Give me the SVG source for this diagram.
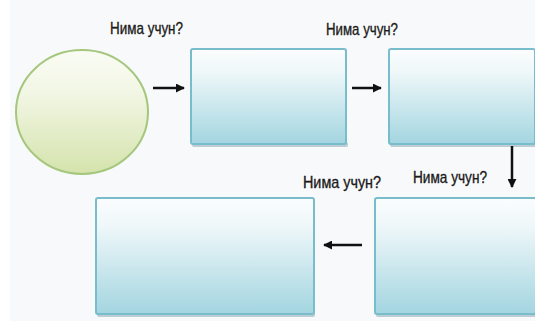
<svg xmlns="http://www.w3.org/2000/svg" width="535" height="321" viewBox="0 0 535 321">
<defs>
<linearGradient id="gb" x1="0" y1="0" x2="0" y2="1">
<stop offset="0" stop-color="#fbfdfe"/>
<stop offset="0.25" stop-color="#eef7f9"/>
<stop offset="1" stop-color="#a3d5e0"/>
</linearGradient>
<linearGradient id="gc" x1="0" y1="0" x2="0" y2="1">
<stop offset="0" stop-color="#fafcf4"/>
<stop offset="0.35" stop-color="#f2f6e4"/>
<stop offset="1" stop-color="#d4e3ac"/>
</linearGradient>
<marker id="ah" viewBox="0 0 10 10" refX="9" refY="5" markerWidth="3.6" markerHeight="3.6" orient="auto">
<path d="M0,0 L10,5 L0,10 z" fill="#111"/>
</marker>
</defs>
<style>
.box{fill:url(#gb);stroke:#79bccb;stroke-width:2}
.sh{fill:#8aaab2;opacity:0.55}
.lbl{font-family:"Liberation Sans",Arial,sans-serif;font-size:17px;fill:#1a1a1a;stroke:#1a1a1a;stroke-width:0.35}
.ar{stroke:#111;stroke-width:2.5;fill:none;marker-end:url(#ah)}
</style>
<rect width="535" height="321" fill="#f8f9fb"/>
<rect width="10" height="321" fill="#ffffff"/>
<g id="n0">
<ellipse cx="82" cy="112" rx="66" ry="62" fill="url(#gc)" stroke="#a5c77d" stroke-width="2"/>
</g>
<g id="n1">
<rect class="sh" x="192" y="142" width="156" height="5" rx="2"/>
<rect class="box" x="191" y="49" width="155" height="95" rx="2"/>
</g>
<g id="n2">
<rect class="sh" x="390" y="142" width="146" height="5" rx="2"/>
<rect class="box" x="389" y="49" width="146" height="95" rx="2"/>
</g>
<g id="n3">
<rect class="sh" x="376" y="312" width="160" height="5" rx="2"/>
<rect class="box" x="375" y="198" width="161" height="116" rx="2"/>
</g>
<g id="n4">
<rect class="sh" x="97" y="312" width="218" height="5" rx="2"/>
<rect class="box" x="96" y="198" width="218" height="116" rx="2"/>
</g>
<g id="connectors">
<line class="ar" x1="153" y1="88" x2="184" y2="88"/>
<line class="ar" x1="352" y1="88" x2="381" y2="88"/>
<line class="ar" x1="512" y1="146" x2="512" y2="187"/>
<line class="ar" x1="362" y1="245" x2="324" y2="245"/>
</g>
<g id="labels">
<text class="lbl" x="110" y="34" textLength="73" lengthAdjust="spacingAndGlyphs">Нима учун?</text>
<text class="lbl" x="326" y="35" textLength="72" lengthAdjust="spacingAndGlyphs">Нима учун?</text>
<text class="lbl" x="303" y="188" textLength="78" lengthAdjust="spacingAndGlyphs">Нима учун?</text>
<text class="lbl" x="413" y="183" textLength="74" lengthAdjust="spacingAndGlyphs">Нима учун?</text>
</g>
</svg>
